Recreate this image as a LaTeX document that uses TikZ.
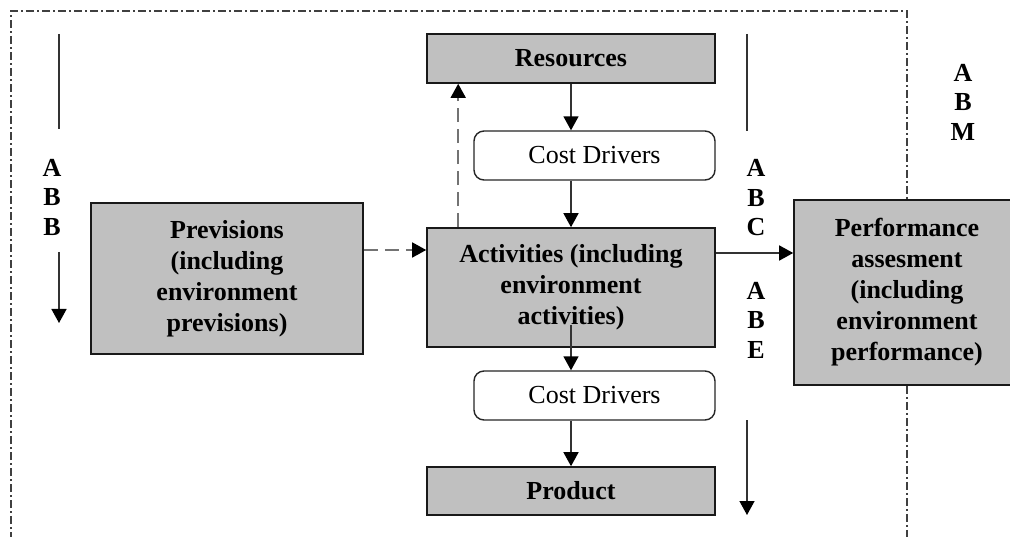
\documentclass[tikz,border=0pt]{standalone}
\usepackage{fontspec}
\setmainfont{Liberation Serif}
\usetikzlibrary{arrows.meta,calc}

\definecolor{boxgray}{HTML}{C0C0C0}
\definecolor{framegray}{HTML}{404040}

\tikzset{
  graybox/.style={draw=black!90, line width=1.6pt, fill=boxgray, rectangle,
    inner sep=0pt, align=center, font=\bfseries\fontsize{26}{31}\selectfont},
  driverbox/.style={draw=black!85, line width=1.4pt, fill=white, rectangle,
    rounded corners=10pt, inner sep=0pt, align=center,
    font=\fontsize{26}{31}\selectfont},
  letters/.style={inner sep=0pt, align=center,
    font=\bfseries\fontsize{26}{29.5}\selectfont},
  tip/.style={-{Triangle[length=14pt,width=15pt,color=black]}},
  arr/.style={draw=black!80, line width=1.5pt, tip},
  plain/.style={draw=black!80, line width=1.5pt},
  dasharr/.style={draw=black!55, line width=1.6pt, dash pattern=on 14pt off 7pt, tip},
  frame/.style={draw=framegray, line width=1.3pt,
    dash pattern=on 8pt off 3pt on 2pt off 3pt}
}

\begin{document}
\begin{tikzpicture}[x=1pt,y=-1pt]
\useasboundingbox (0,0) rectangle (1010,537);

% central chain
\node[graybox, minimum width=288pt, minimum height=49pt] (res) at (571,58.5) {Resources};
\node[driverbox, minimum width=241pt, minimum height=49pt] (cd1) at (594.5,155.5) {Cost Drivers};
\node[graybox, minimum width=288pt, minimum height=119pt] (act) at (571,287.5)
  {Activities (including\\environment\\activities)};
\node[driverbox, minimum width=241pt, minimum height=49pt] (cd2) at (594.5,395.5) {Cost Drivers};
\node[graybox, minimum width=288pt, minimum height=48pt] (prod) at (571,491) {Product};

% side boxes
\node[graybox, minimum width=272pt, minimum height=151pt] (prev) at (227,278.5)
  {Previsions\\(including\\environment\\previsions)};
\node[graybox, minimum width=226pt, minimum height=185pt] (perf) at (907,292.5)
  {Performance\\assesment\\(including\\environment\\performance)};

% outer dash-dot frame, open at the bottom and interrupted by the performance box
\draw[frame] (11,540) -- (11,11) -- (907,11) -- (perf.north);
\draw[frame] (perf.south) -- (907,540);

% flow arrows
\draw[arr] (res.south) -- (res.south |- cd1.north);
\draw[arr] (act.north |- cd1.south) -- (act.north);
\coordinate (actin) at ($(act.south)+(0,-23)$);
\draw[arr] (actin) -- (actin |- cd2.north);
\draw[arr] (prod.north |- cd2.south) -- (prod.north);

% feedback and inputs
\draw[dasharr] ([xshift=32pt]act.north west) -- ([xshift=32pt]res.south west);
\coordinate (pv) at ([yshift=28.5pt]prev.east);
\draw[dasharr] (pv) -- (pv -| act.west);
\coordinate (ae) at ([yshift=34.5pt]act.east);
\draw[arr] (ae) -- (ae -| perf.west);

% ABB marker
\node[letters] (abb) at (52,197) {A\\B\\B};
\coordinate (abbtop) at (59,34);
\coordinate (abbup) at (59,129);
\coordinate (abblo) at (59,252);
\coordinate (abbend) at (59,323);
\draw[plain] (abbtop) -- (abbup);
\draw[arr] (abblo) -- (abbend);

% ABC / ABE marker
\node[letters] (abc) at (756,198) {A\\B\\C};
\node[letters] (abe) at (756,320) {A\\B\\E};
\coordinate (abctop) at (747,34);
\coordinate (abcup) at (747,131);
\coordinate (abelo) at (747,420);
\coordinate (abeend) at (747,515);
\draw[plain] (abctop) -- (abcup);
\draw[arr] (abelo) -- (abeend);

% ABM marker
\node[letters] (abm) at (963,102) {A\\B\\M};
\end{tikzpicture}
\end{document}
